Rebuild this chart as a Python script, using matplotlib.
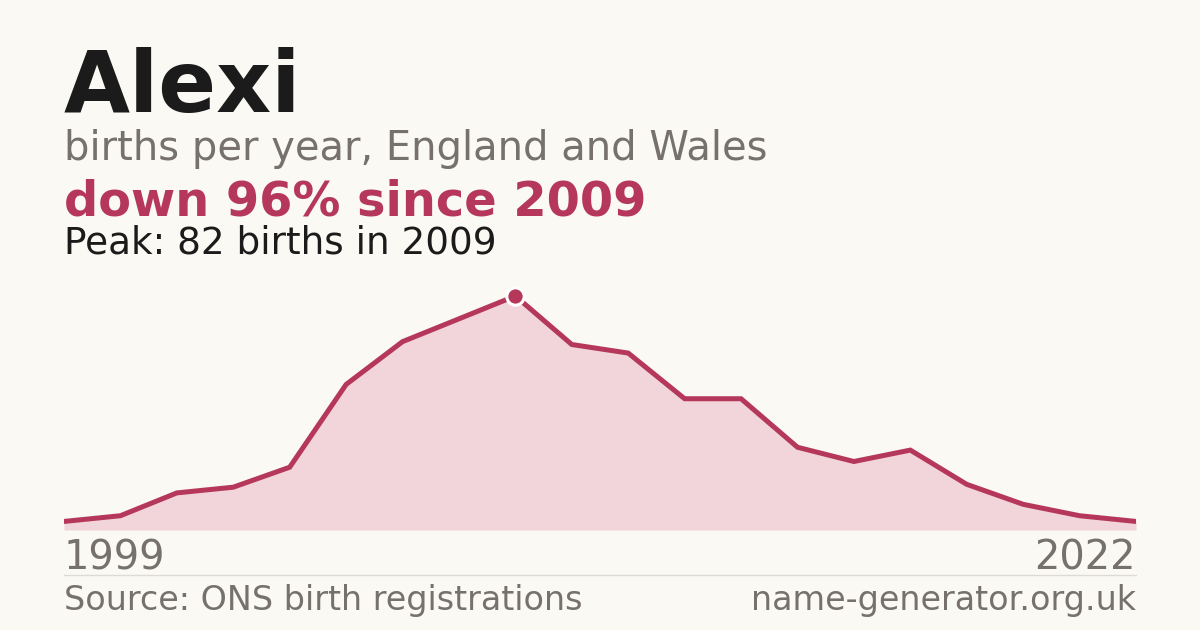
import matplotlib.pyplot as plt
import numpy as np

# values (years with no entry are skipped)
years = [1999, 2000, 2001, 2003, 2004, 2005, 2006, 2008, 2009, 2010,
         2011, 2012, 2013, 2014, 2016, 2017, 2018, 2019, 2021, 2022]
births = [3, 5, 13, 15, 22, 51, 66, 74, 82, 65,
          62, 46, 46, 29, 24, 28, 16, 9, 5, 3]

name = "Alexi"
subtitle = "births per year, England and Wales"
source = "Source: ONS birth registrations"
site = "name-generator.org.uk"

bg = "#FAF9F4"
red = "#B5385A"
fill = "#F1D5DA"
grey = "#76716A"
dark = "#1B1B1B"

plt.rcParams['font.family'] = ['DejaVu Sans']

peak_i = int(np.argmax(births))
change = round((births[-1] - births[peak_i]) / births[peak_i] * 100)
headline = "down {}% since {}".format(abs(change), years[peak_i])
peak_text = "Peak: {} births in {}".format(births[peak_i], years[peak_i])

fig = plt.figure(figsize=(12, 6.3), dpi=100, facecolor=bg)

ax = fig.add_axes([64 / 1200, 1 - 530 / 630, 1072 / 1200, 234 / 630])
ax.set_facecolor(bg)
x = np.arange(len(births))
ax.fill_between(x, births, 0, color=fill, lw=0)
ax.plot(x, births, color=red, lw=3.6, solid_joinstyle='miter', zorder=3)
ax.plot([x[peak_i]], [births[peak_i]], 'o', ms=12.5, mfc=red,
        mec='white', mew=2.2, clip_on=False, zorder=4)
ax.set_xlim(0, len(births) - 1)
ax.set_ylim(0, max(births))
ax.axis('off')

fig.text(64 / 1200, 1 - 112 / 630, name, fontsize=61.5, fontweight='bold',
         color=dark, va='baseline')
fig.text(64 / 1200, 1 - 160 / 630, subtitle, fontsize=28.8, color=grey,
         va='baseline')
fig.text(64 / 1200, 1 - 215 / 630, headline, fontsize=34.5, fontweight='bold',
         color=red, va='baseline')
fig.text(64 / 1200, 1 - 254 / 630, peak_text, fontsize=26.9, color=dark,
         va='baseline')

fig.text(64 / 1200, 1 - 570 / 630, str(years[0]), fontsize=28.7, color=grey,
         va='baseline')
fig.text(1136 / 1200, 1 - 570 / 630, str(years[-1]), fontsize=28.7,
         color=grey, va='baseline', ha='right')

fig.add_artist(plt.Line2D([64 / 1200, 1136 / 1200],
                          [1 - 574.5 / 630, 1 - 574.5 / 630],
                          color="#DDDBD4", lw=1))

fig.text(64 / 1200, 1 - 610 / 630, source, fontsize=24, color=grey,
         va='baseline')
fig.text(1136 / 1200, 1 - 610 / 630, site, fontsize=24, color=grey,
         va='baseline', ha='right')

fig.savefig("out.png", dpi=100, facecolor=bg)
